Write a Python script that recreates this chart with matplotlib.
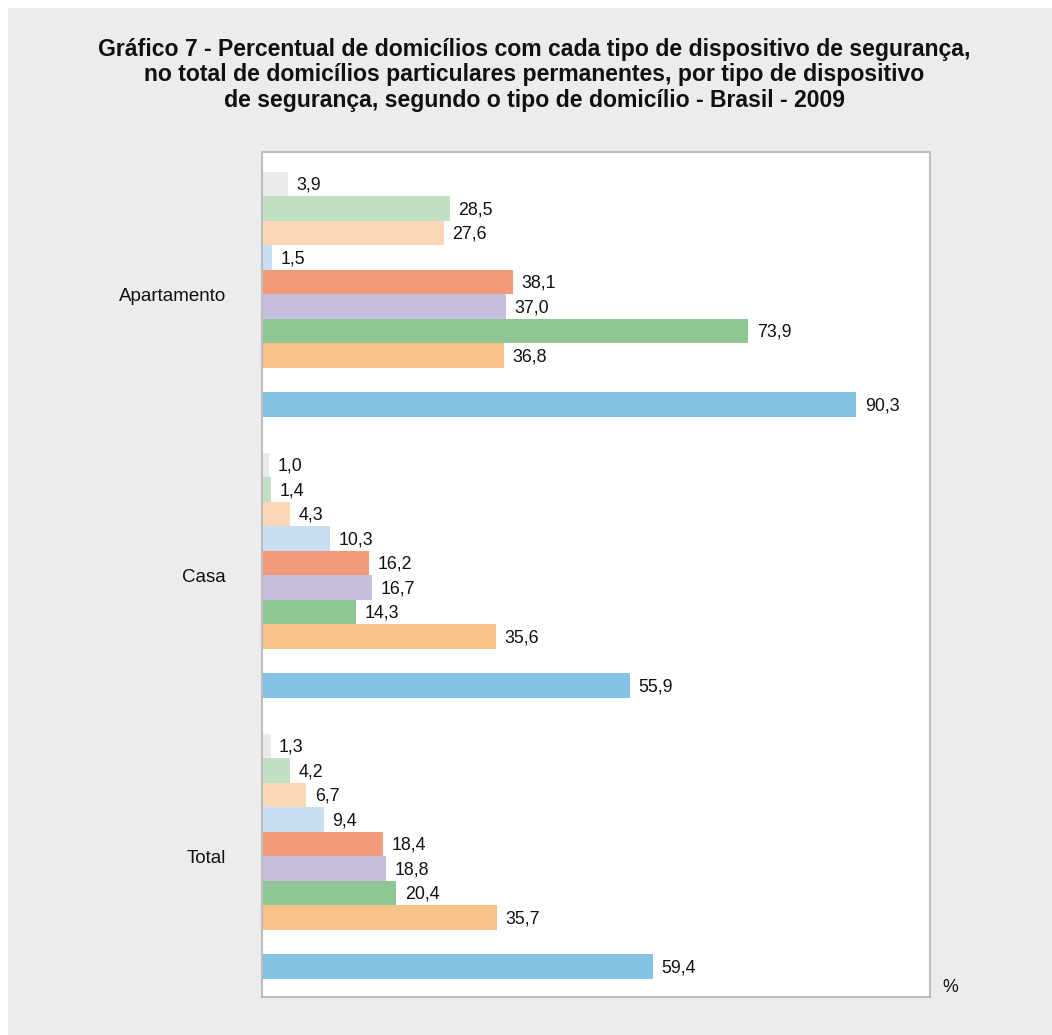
import numpy as np
import matplotlib
matplotlib.use('Agg')
import matplotlib.pyplot as plt
from matplotlib.patches import Rectangle

# Dados
categorias = ['Apartamento', 'Casa', 'Total']
serie_1 = [3.9, 1.0, 1.3]
serie_2 = [28.5, 1.4, 4.2]
serie_3 = [27.6, 4.3, 6.7]
serie_4 = [1.5, 10.3, 9.4]
serie_5 = [38.1, 16.2, 18.4]
serie_6 = [37.0, 16.7, 18.8]
serie_7 = [73.9, 14.3, 20.4]
serie_8 = [36.8, 35.6, 35.7]
serie_9 = [90.3, 55.9, 59.4]

series = [serie_1, serie_2, serie_3, serie_4, serie_5, serie_6, serie_7, serie_8, serie_9]
cores = ['#e9eae9', '#c0dfc3', '#fbd7b5', '#c8dff2', '#f29a79',
         '#c7bfdd', '#8fc794', '#f8c389', '#86c2e5']
slots = [0, 1, 2, 3, 4, 5, 6, 7, 9]   # the last bar sits after an empty slot
passo_grupo = 11.47

fonte = ['Liberation Sans', 'DejaVu Sans']

fig = plt.figure(figsize=(10.52, 10.35), dpi=100)
fig.patch.set_facecolor('white')
fig.patches.append(Rectangle((8/1052, 0), 1, 1 - 8/1035, transform=fig.transFigure,
                             facecolor='#ebeceb', edgecolor='none', zorder=-10))

ax = fig.add_axes([262/1052, 1 - 997/1035, 668/1052, 845/1035])
ax.set_facecolor('white')

for s, (valores, cor, slot) in enumerate(zip(series, cores, slots)):
    y = np.arange(len(categorias)) * passo_grupo + slot
    ax.barh(y, valores, height=1.0, color=cor, edgecolor='none')
    for yi, v in zip(y, valores):
        ax.text(v + 1.3, yi + 0.05, f'{v:.1f}'.replace('.', ','), va='center', ha='left',
                fontsize=12.8, family=fonte, color='#111111')

ax.set_xlim(0, 101.5)
ax.set_ylim(2 * passo_grupo + 9 + 1.25, -1.3)
ax.set_xticks([])
ax.set_yticks(np.arange(len(categorias)) * passo_grupo + 4.5)
ax.set_yticklabels(categorias, fontsize=13.5, family=fonte, color='#111111')
ax.tick_params(axis='y', length=0, pad=26)
for sp in ax.spines.values():
    sp.set_color('#bdbdbd')
    sp.set_linewidth(1.5)

fig.text(950/1052, 1 - 988/1035, '%', ha='center', va='center', fontsize=12.8,
         family=fonte, color='#111111')

titulo = ('Gráfico 7 - Percentual de domicílios com cada tipo de dispositivo de segurança,\n'
          'no total de domicílios particulares permanentes, por tipo de dispositivo\n'
          'de segurança, segundo o tipo de domicílio - Brasil - 2009')
fig.text(534/1052, 1 - 75/1035, titulo, ha='center', va='center', fontsize=16.6,
         fontweight='bold', family=fonte, linespacing=1.15, color='#111111')

fig.savefig('out.png', dpi=100)
